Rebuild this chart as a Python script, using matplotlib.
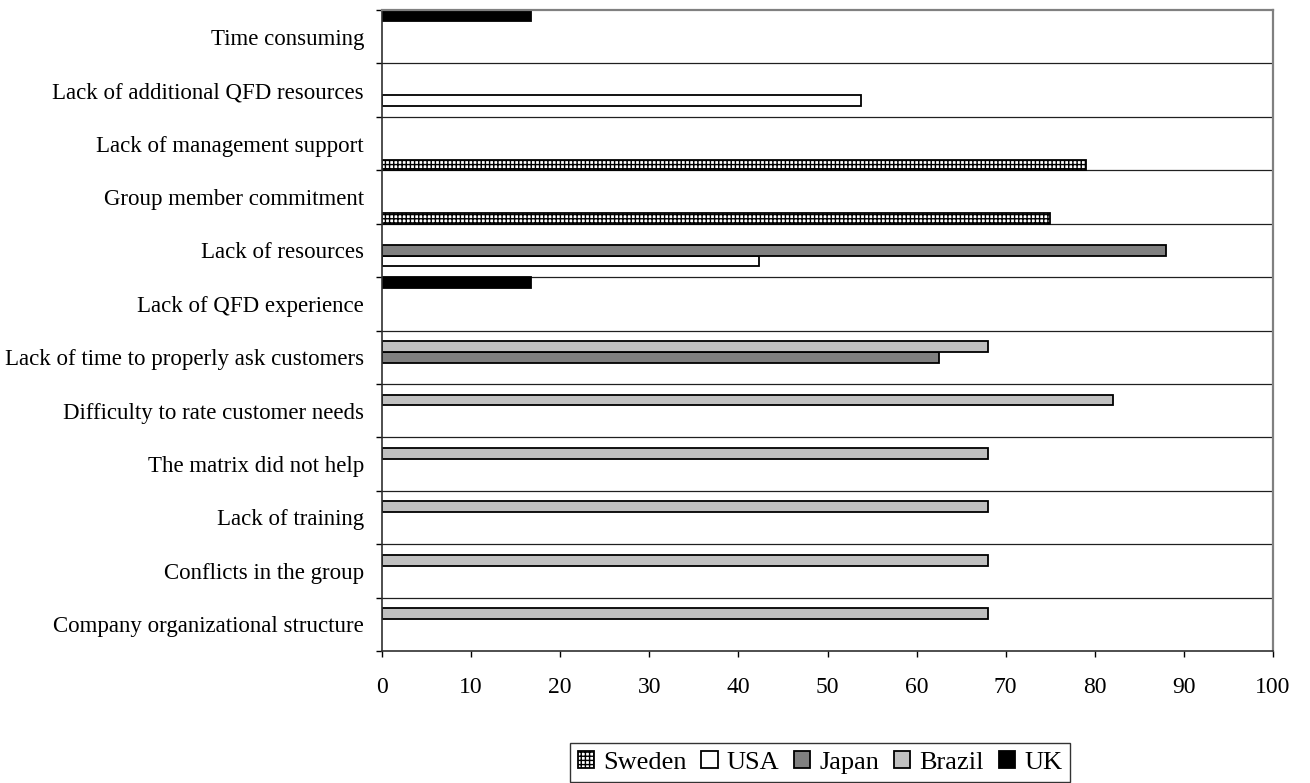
import numpy as np
import matplotlib
matplotlib.use("Agg")
import matplotlib.pyplot as plt
import matplotlib.patches as mpatches

plt.rcParams['font.family'] = ['Liberation Serif', 'DejaVu Serif']
plt.rcParams['hatch.linewidth'] = 1.0

# Problems encountered, listed bottom to top
categories = [
    "Company organizational structure",
    "Conflicts in the group",
    "Lack of training",
    "The matrix did not help",
    "Difficulty to rate customer needs",
    "Lack of time to properly ask customers",
    "Lack of QFD experience",
    "Lack of resources",
    "Group member commitment",
    "Lack of management support",
    "Lack of additional QFD resources",
    "Time consuming",
]

nan = np.nan
sweden = [nan, nan, nan, nan, nan, nan, nan, nan, 75, 79, nan, nan]
usa = [nan, nan, nan, nan, nan, nan, nan, 42.3, nan, nan, 53.8, nan]
japan = [nan, nan, nan, nan, nan, 62.5, nan, 88, nan, nan, nan, nan]
brazil = [68, 68, 68, 68, 82, 68, nan, nan, nan, nan, nan, nan]
uk = [nan, nan, nan, nan, nan, nan, 16.7, nan, nan, nan, nan, 16.7]

series = [
    ("Sweden", sweden, "white", "++++"),
    ("USA", usa, "white", None),
    ("Japan", japan, "#808080", None),
    ("Brazil", brazil, "#c0c0c0", None),
    ("UK", uk, "black", None),
]

fig = plt.figure(figsize=(13.1, 7.83), dpi=100)
ax = fig.add_axes([0.2916, 0.1686, 0.6802, 0.8186])

y = np.arange(len(categories))
h = 0.2
handles = []
for k, (name, vals, color, hatch) in enumerate(series):
    offs = (k - 2) * h
    ax.barh(y + offs, vals, height=h, color=color, edgecolor="black",
            linewidth=1.3, hatch=hatch)
    handles.append(mpatches.Patch(facecolor=color, edgecolor="black",
                                  linewidth=1.3, hatch=hatch, label=name))

ax.set_xlim(0, 100)
ax.set_ylim(-0.5, len(categories) - 0.5)
ax.set_xticks(range(0, 101, 10))

# category labels in the middle of each band, ticks on band edges
ax.set_yticks(y)
ax.set_yticklabels(categories)
ax.set_yticks(np.arange(-0.5, len(categories), 1.0), minor=True)
ax.tick_params(axis="y", which="major", length=0, pad=13, labelsize=16.5)
ax.tick_params(axis="y", which="minor", length=4, width=1, direction="out")
ax.tick_params(axis="x", length=4.5, width=1, direction="out", pad=14,
               labelsize=17)

for b in np.arange(0.5, len(categories) - 1, 1.0):
    ax.axhline(b, color="#202020", linewidth=0.9, zorder=0.5)

for side in ["left", "bottom"]:
    ax.spines[side].set_color("#303030")
    ax.spines[side].set_linewidth(1.2)
for side in ["top", "right"]:
    ax.spines[side].set_color("#808080")
    ax.spines[side].set_linewidth(1.6)

leg = fig.legend(handles=handles, loc="upper center",
                 bbox_to_anchor=(0.626, 0.051), ncol=5, fontsize=19,
                 frameon=True, fancybox=False, edgecolor="black",
                 handlelength=0.62, handleheight=0.62, handletextpad=0.35,
                 columnspacing=0.55, borderpad=0.3, borderaxespad=0)
leg.get_frame().set_linewidth(1.0)

fig.savefig("out.png", dpi=100)
